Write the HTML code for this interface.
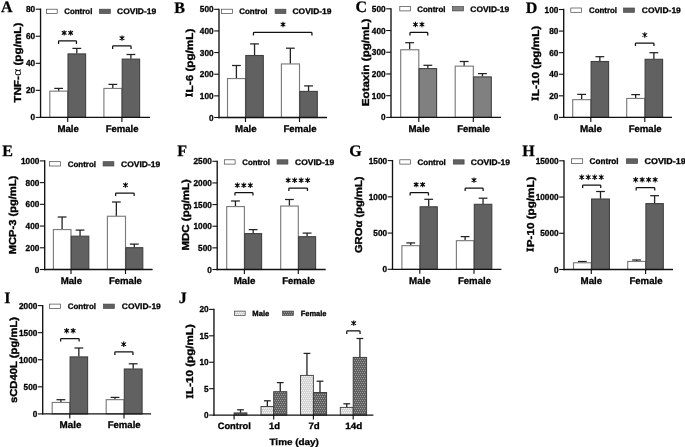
<!DOCTYPE html>
<html><head><meta charset="utf-8"><title>Figure</title>
<style>html,body{margin:0;padding:0;background:#fff}svg{display:block;will-change:transform;filter:grayscale(1)}text{text-rendering:geometricPrecision}</style>
</head><body>
<svg width="685" height="447" viewBox="0 0 685 447">
<defs>
<pattern id="pl" width="4" height="4" patternUnits="userSpaceOnUse">
<rect width="4" height="4" fill="#d4d4d4"/>
<path d="M0 0h1v1h-1zM2 0h1v1h-1zM1 2h1v1h-1zM3 2h1v1h-1z" fill="#f6f6f6"/>
</pattern>
<pattern id="pd" width="4" height="4" patternUnits="userSpaceOnUse">
<rect width="4" height="4" fill="#606060"/>
<path d="M0 0h1v1h-1zM2 0h1v1h-1zM1 2h1v1h-1zM3 2h1v1h-1z" fill="#9a9a9a"/>
</pattern>
</defs>
<rect width="685" height="447" fill="#fff"/>
<line x1="58.65" y1="88.40" x2="58.65" y2="90.90" stroke="#222" stroke-width="1.3"/>
<line x1="54.25" y1="88.40" x2="63.05" y2="88.40" stroke="#222" stroke-width="1.25"/>
<rect x="49.80" y="91.15" width="17.90" height="26.25" fill="#fff" stroke="#7c7c7c" stroke-width="1.15"/>
<line x1="76.80" y1="48.40" x2="76.80" y2="53.60" stroke="#222" stroke-width="1.3"/>
<line x1="72.40" y1="48.40" x2="81.20" y2="48.40" stroke="#222" stroke-width="1.25"/>
<rect x="68.00" y="53.90" width="17.60" height="63.50" fill="#616161" stroke="#404040" stroke-width="1.1"/>
<line x1="112.80" y1="84.40" x2="112.80" y2="88.20" stroke="#222" stroke-width="1.3"/>
<line x1="108.40" y1="84.40" x2="117.20" y2="84.40" stroke="#222" stroke-width="1.25"/>
<rect x="103.90" y="88.45" width="18.00" height="28.95" fill="#fff" stroke="#7c7c7c" stroke-width="1.15"/>
<line x1="130.90" y1="54.50" x2="130.90" y2="58.80" stroke="#222" stroke-width="1.3"/>
<line x1="126.50" y1="54.50" x2="135.30" y2="54.50" stroke="#222" stroke-width="1.25"/>
<rect x="122.20" y="59.10" width="17.40" height="58.30" fill="#616161" stroke="#404040" stroke-width="1.1"/>
<line x1="40.55" y1="8.55" x2="40.55" y2="118.05" stroke="#111" stroke-width="1.35"/>
<line x1="39.90" y1="117.40" x2="150.00" y2="117.40" stroke="#111" stroke-width="1.35"/>
<line x1="35.75" y1="117.40" x2="40.55" y2="117.40" stroke="#111" stroke-width="1.1"/>
<text x="35.15" y="120.45" font-size="8.7" text-anchor="end" font-family="Liberation Sans, sans-serif" font-weight="bold" textLength="4.58" lengthAdjust="spacingAndGlyphs" fill="#000" stroke="#000" stroke-width="0.3" >0</text>
<line x1="35.75" y1="90.35" x2="40.55" y2="90.35" stroke="#111" stroke-width="1.1"/>
<text x="35.15" y="93.40" font-size="8.7" text-anchor="end" font-family="Liberation Sans, sans-serif" font-weight="bold" textLength="9.16" lengthAdjust="spacingAndGlyphs" fill="#000" stroke="#000" stroke-width="0.3" >20</text>
<line x1="35.75" y1="63.30" x2="40.55" y2="63.30" stroke="#111" stroke-width="1.1"/>
<text x="35.15" y="66.35" font-size="8.7" text-anchor="end" font-family="Liberation Sans, sans-serif" font-weight="bold" textLength="9.16" lengthAdjust="spacingAndGlyphs" fill="#000" stroke="#000" stroke-width="0.3" >40</text>
<line x1="35.75" y1="36.25" x2="40.55" y2="36.25" stroke="#111" stroke-width="1.1"/>
<text x="35.15" y="39.30" font-size="8.7" text-anchor="end" font-family="Liberation Sans, sans-serif" font-weight="bold" textLength="9.16" lengthAdjust="spacingAndGlyphs" fill="#000" stroke="#000" stroke-width="0.3" >60</text>
<line x1="35.75" y1="9.20" x2="40.55" y2="9.20" stroke="#111" stroke-width="1.1"/>
<text x="35.15" y="12.25" font-size="8.7" text-anchor="end" font-family="Liberation Sans, sans-serif" font-weight="bold" textLength="9.16" lengthAdjust="spacingAndGlyphs" fill="#000" stroke="#000" stroke-width="0.3" >80</text>
<line x1="67.70" y1="117.40" x2="67.70" y2="121.90" stroke="#111" stroke-width="1.15"/>
<line x1="121.90" y1="117.40" x2="121.90" y2="121.90" stroke="#111" stroke-width="1.15"/>
<text x="57.40" y="131.90" font-size="9.7" text-anchor="start" font-family="Liberation Sans, sans-serif" font-weight="bold" textLength="21.50" lengthAdjust="spacingAndGlyphs" fill="#000" stroke="#000" stroke-width="0.3" >Male</text>
<text x="105.70" y="131.90" font-size="9.7" text-anchor="start" font-family="Liberation Sans, sans-serif" font-weight="bold" textLength="32.90" lengthAdjust="spacingAndGlyphs" fill="#000" stroke="#000" stroke-width="0.3" >Female</text>
<rect x="46.40" y="9.20" width="10.8" height="4.3" fill="#fff" stroke="#444" stroke-width="0.7"/>
<rect x="99.50" y="9.20" width="10.8" height="4.3" fill="#616161" stroke="#444" stroke-width="0.7"/>
<text x="64.20" y="14.15" font-size="8.0" text-anchor="start" font-family="Liberation Sans, sans-serif" font-weight="bold" textLength="28.20" lengthAdjust="spacingAndGlyphs" fill="#000" stroke="#000" stroke-width="0.3" >Control</text>
<text x="117.00" y="14.15" font-size="8.0" text-anchor="start" font-family="Liberation Sans, sans-serif" font-weight="bold" textLength="39.20" lengthAdjust="spacingAndGlyphs" fill="#000" stroke="#000" stroke-width="0.3" >COVID-19</text>
<path d="M58.55 43.90V41.60Q58.55 40.80 59.35 40.80H75.65Q76.45 40.80 76.45 41.60V43.90" fill="none" stroke="#111" stroke-width="1.25"/>
<path d="M64.15 30.20V35.60M61.80 31.30L66.50 34.50M61.80 34.50L66.50 31.30M70.65 30.20V35.60M68.30 31.30L73.00 34.50M68.30 34.50L73.00 31.30" fill="none" stroke="#0a0a0a" stroke-width="1.1"/><circle cx="64.15" cy="32.90" r="1.25" fill="#0a0a0a"/><circle cx="70.65" cy="32.90" r="1.25" fill="#0a0a0a"/>
<path d="M112.65 49.00V46.70Q112.65 45.90 113.45 45.90H130.25Q131.05 45.90 131.05 46.70V49.00" fill="none" stroke="#111" stroke-width="1.25"/>
<path d="M122.00 35.40V40.80M119.65 36.50L124.35 39.70M119.65 39.70L124.35 36.50" fill="none" stroke="#0a0a0a" stroke-width="1.1"/><circle cx="122.00" cy="38.10" r="1.25" fill="#0a0a0a"/>
<text transform="translate(20.65,102.70) rotate(-90)" x="0" font-size="10.1" font-family="Liberation Sans, sans-serif" font-weight="bold" textLength="80.00" lengthAdjust="spacingAndGlyphs" fill="#000" stroke="#000" stroke-width="0.35">TNF-<tspan font-weight="normal" stroke-width="0" font-size="11">α</tspan> (pg/mL)</text>
<text x="1.00" y="12.30" font-size="16" font-family="Liberation Serif, serif" font-weight="bold" fill="#000" stroke="#000" stroke-width="0.25">A</text>
<line x1="236.40" y1="65.50" x2="236.40" y2="78.30" stroke="#222" stroke-width="1.3"/>
<line x1="232.00" y1="65.50" x2="240.80" y2="65.50" stroke="#222" stroke-width="1.25"/>
<rect x="227.50" y="78.55" width="18.00" height="38.95" fill="#fff" stroke="#7c7c7c" stroke-width="1.15"/>
<line x1="254.55" y1="43.90" x2="254.55" y2="55.20" stroke="#222" stroke-width="1.3"/>
<line x1="250.15" y1="43.90" x2="258.95" y2="43.90" stroke="#222" stroke-width="1.25"/>
<rect x="245.80" y="55.50" width="17.50" height="62.00" fill="#616161" stroke="#404040" stroke-width="1.1"/>
<line x1="290.35" y1="48.20" x2="290.35" y2="63.70" stroke="#222" stroke-width="1.3"/>
<line x1="285.95" y1="48.20" x2="294.75" y2="48.20" stroke="#222" stroke-width="1.25"/>
<rect x="281.40" y="63.95" width="18.10" height="53.55" fill="#fff" stroke="#7c7c7c" stroke-width="1.15"/>
<line x1="308.55" y1="85.90" x2="308.55" y2="91.10" stroke="#222" stroke-width="1.3"/>
<line x1="304.15" y1="85.90" x2="312.95" y2="85.90" stroke="#222" stroke-width="1.25"/>
<rect x="299.80" y="91.40" width="17.50" height="26.10" fill="#616161" stroke="#404040" stroke-width="1.1"/>
<line x1="219.00" y1="8.65" x2="219.00" y2="118.15" stroke="#111" stroke-width="1.35"/>
<line x1="218.35" y1="117.50" x2="327.00" y2="117.50" stroke="#111" stroke-width="1.35"/>
<line x1="214.20" y1="117.50" x2="219.00" y2="117.50" stroke="#111" stroke-width="1.1"/>
<text x="213.60" y="120.55" font-size="8.7" text-anchor="end" font-family="Liberation Sans, sans-serif" font-weight="bold" textLength="4.58" lengthAdjust="spacingAndGlyphs" fill="#000" stroke="#000" stroke-width="0.3" >0</text>
<line x1="214.20" y1="95.86" x2="219.00" y2="95.86" stroke="#111" stroke-width="1.1"/>
<text x="213.60" y="98.91" font-size="8.7" text-anchor="end" font-family="Liberation Sans, sans-serif" font-weight="bold" textLength="13.74" lengthAdjust="spacingAndGlyphs" fill="#000" stroke="#000" stroke-width="0.3" >100</text>
<line x1="214.20" y1="74.22" x2="219.00" y2="74.22" stroke="#111" stroke-width="1.1"/>
<text x="213.60" y="77.27" font-size="8.7" text-anchor="end" font-family="Liberation Sans, sans-serif" font-weight="bold" textLength="13.74" lengthAdjust="spacingAndGlyphs" fill="#000" stroke="#000" stroke-width="0.3" >200</text>
<line x1="214.20" y1="52.58" x2="219.00" y2="52.58" stroke="#111" stroke-width="1.1"/>
<text x="213.60" y="55.63" font-size="8.7" text-anchor="end" font-family="Liberation Sans, sans-serif" font-weight="bold" textLength="13.74" lengthAdjust="spacingAndGlyphs" fill="#000" stroke="#000" stroke-width="0.3" >300</text>
<line x1="214.20" y1="30.94" x2="219.00" y2="30.94" stroke="#111" stroke-width="1.1"/>
<text x="213.60" y="33.99" font-size="8.7" text-anchor="end" font-family="Liberation Sans, sans-serif" font-weight="bold" textLength="13.74" lengthAdjust="spacingAndGlyphs" fill="#000" stroke="#000" stroke-width="0.3" >400</text>
<line x1="214.20" y1="9.30" x2="219.00" y2="9.30" stroke="#111" stroke-width="1.1"/>
<text x="213.60" y="12.35" font-size="8.7" text-anchor="end" font-family="Liberation Sans, sans-serif" font-weight="bold" textLength="13.74" lengthAdjust="spacingAndGlyphs" fill="#000" stroke="#000" stroke-width="0.3" >500</text>
<line x1="245.50" y1="117.50" x2="245.50" y2="122.00" stroke="#111" stroke-width="1.15"/>
<line x1="299.50" y1="117.50" x2="299.50" y2="122.00" stroke="#111" stroke-width="1.15"/>
<text x="235.00" y="131.90" font-size="9.7" text-anchor="start" font-family="Liberation Sans, sans-serif" font-weight="bold" textLength="21.70" lengthAdjust="spacingAndGlyphs" fill="#000" stroke="#000" stroke-width="0.3" >Male</text>
<text x="283.40" y="131.90" font-size="9.7" text-anchor="start" font-family="Liberation Sans, sans-serif" font-weight="bold" textLength="33.10" lengthAdjust="spacingAndGlyphs" fill="#000" stroke="#000" stroke-width="0.3" >Female</text>
<rect x="221.60" y="9.20" width="10.8" height="4.3" fill="#fff" stroke="#444" stroke-width="0.7"/>
<rect x="275.10" y="9.20" width="10.8" height="4.3" fill="#616161" stroke="#444" stroke-width="0.7"/>
<text x="239.30" y="14.15" font-size="8.0" text-anchor="start" font-family="Liberation Sans, sans-serif" font-weight="bold" textLength="28.20" lengthAdjust="spacingAndGlyphs" fill="#000" stroke="#000" stroke-width="0.3" >Control</text>
<text x="292.50" y="14.15" font-size="8.0" text-anchor="start" font-family="Liberation Sans, sans-serif" font-weight="bold" textLength="39.00" lengthAdjust="spacingAndGlyphs" fill="#000" stroke="#000" stroke-width="0.3" >COVID-19</text>
<path d="M253.45 35.50V33.20Q253.45 32.40 254.25 32.40H311.15Q311.95 32.40 311.95 33.20V35.50" fill="none" stroke="#111" stroke-width="1.25"/>
<path d="M283.00 21.80V27.20M280.65 22.90L285.35 26.10M280.65 26.10L285.35 22.90" fill="none" stroke="#0a0a0a" stroke-width="1.1"/><circle cx="283.00" cy="24.50" r="1.25" fill="#0a0a0a"/>
<path transform="translate(192.65,97.30) rotate(-90)" d="M0.3 0h4v-1.2h-4zM0.3 -5.95h4v-1.2h-4zM1.35 -0.5h1.9v-6h-1.9z" fill="#000"/>
<text transform="translate(192.65,97.30) rotate(-90)" x="4.9" font-size="10.1" font-family="Liberation Sans, sans-serif" font-weight="bold" textLength="63.70" lengthAdjust="spacingAndGlyphs" fill="#000" stroke="#000" stroke-width="0.35">L-6 (pg/mL)</text>
<text x="174.30" y="12.50" font-size="16" font-family="Liberation Serif, serif" font-weight="bold" fill="#000" stroke="#000" stroke-width="0.25">B</text>
<line x1="409.65" y1="42.70" x2="409.65" y2="49.50" stroke="#222" stroke-width="1.3"/>
<line x1="405.25" y1="42.70" x2="414.05" y2="42.70" stroke="#222" stroke-width="1.25"/>
<rect x="400.70" y="49.75" width="18.10" height="67.65" fill="#fff" stroke="#7c7c7c" stroke-width="1.15"/>
<line x1="427.85" y1="65.30" x2="427.85" y2="68.30" stroke="#222" stroke-width="1.3"/>
<line x1="423.45" y1="65.30" x2="432.25" y2="65.30" stroke="#222" stroke-width="1.25"/>
<rect x="419.10" y="68.60" width="17.50" height="48.80" fill="#808080" stroke="#404040" stroke-width="1.1"/>
<line x1="464.15" y1="61.50" x2="464.15" y2="65.90" stroke="#222" stroke-width="1.3"/>
<line x1="459.75" y1="61.50" x2="468.55" y2="61.50" stroke="#222" stroke-width="1.25"/>
<rect x="455.20" y="66.15" width="18.10" height="51.25" fill="#fff" stroke="#7c7c7c" stroke-width="1.15"/>
<line x1="482.45" y1="73.60" x2="482.45" y2="76.60" stroke="#222" stroke-width="1.3"/>
<line x1="478.05" y1="73.60" x2="486.85" y2="73.60" stroke="#222" stroke-width="1.25"/>
<rect x="473.60" y="76.90" width="17.70" height="40.50" fill="#808080" stroke="#404040" stroke-width="1.1"/>
<line x1="391.00" y1="8.15" x2="391.00" y2="118.05" stroke="#111" stroke-width="1.35"/>
<line x1="390.35" y1="117.40" x2="501.00" y2="117.40" stroke="#111" stroke-width="1.35"/>
<line x1="386.20" y1="117.40" x2="391.00" y2="117.40" stroke="#111" stroke-width="1.1"/>
<text x="385.60" y="120.45" font-size="8.7" text-anchor="end" font-family="Liberation Sans, sans-serif" font-weight="bold" textLength="4.58" lengthAdjust="spacingAndGlyphs" fill="#000" stroke="#000" stroke-width="0.3" >0</text>
<line x1="386.20" y1="95.68" x2="391.00" y2="95.68" stroke="#111" stroke-width="1.1"/>
<text x="385.60" y="98.73" font-size="8.7" text-anchor="end" font-family="Liberation Sans, sans-serif" font-weight="bold" textLength="13.74" lengthAdjust="spacingAndGlyphs" fill="#000" stroke="#000" stroke-width="0.3" >100</text>
<line x1="386.20" y1="73.96" x2="391.00" y2="73.96" stroke="#111" stroke-width="1.1"/>
<text x="385.60" y="77.01" font-size="8.7" text-anchor="end" font-family="Liberation Sans, sans-serif" font-weight="bold" textLength="13.74" lengthAdjust="spacingAndGlyphs" fill="#000" stroke="#000" stroke-width="0.3" >200</text>
<line x1="386.20" y1="52.24" x2="391.00" y2="52.24" stroke="#111" stroke-width="1.1"/>
<text x="385.60" y="55.29" font-size="8.7" text-anchor="end" font-family="Liberation Sans, sans-serif" font-weight="bold" textLength="13.74" lengthAdjust="spacingAndGlyphs" fill="#000" stroke="#000" stroke-width="0.3" >300</text>
<line x1="386.20" y1="30.52" x2="391.00" y2="30.52" stroke="#111" stroke-width="1.1"/>
<text x="385.60" y="33.57" font-size="8.7" text-anchor="end" font-family="Liberation Sans, sans-serif" font-weight="bold" textLength="13.74" lengthAdjust="spacingAndGlyphs" fill="#000" stroke="#000" stroke-width="0.3" >400</text>
<line x1="386.20" y1="8.80" x2="391.00" y2="8.80" stroke="#111" stroke-width="1.1"/>
<text x="385.60" y="11.85" font-size="8.7" text-anchor="end" font-family="Liberation Sans, sans-serif" font-weight="bold" textLength="13.74" lengthAdjust="spacingAndGlyphs" fill="#000" stroke="#000" stroke-width="0.3" >500</text>
<line x1="418.80" y1="117.40" x2="418.80" y2="121.90" stroke="#111" stroke-width="1.15"/>
<line x1="473.30" y1="117.40" x2="473.30" y2="121.90" stroke="#111" stroke-width="1.15"/>
<text x="408.50" y="131.90" font-size="9.7" text-anchor="start" font-family="Liberation Sans, sans-serif" font-weight="bold" textLength="21.50" lengthAdjust="spacingAndGlyphs" fill="#000" stroke="#000" stroke-width="0.3" >Male</text>
<text x="457.20" y="131.90" font-size="9.7" text-anchor="start" font-family="Liberation Sans, sans-serif" font-weight="bold" textLength="33.00" lengthAdjust="spacingAndGlyphs" fill="#000" stroke="#000" stroke-width="0.3" >Female</text>
<rect x="399.80" y="6.60" width="10.8" height="4.3" fill="#fff" stroke="#444" stroke-width="0.7"/>
<rect x="452.60" y="6.60" width="10.8" height="4.3" fill="#808080" stroke="#444" stroke-width="0.7"/>
<text x="417.30" y="11.55" font-size="8.0" text-anchor="start" font-family="Liberation Sans, sans-serif" font-weight="bold" textLength="28.20" lengthAdjust="spacingAndGlyphs" fill="#000" stroke="#000" stroke-width="0.3" >Control</text>
<text x="470.30" y="11.55" font-size="8.0" text-anchor="start" font-family="Liberation Sans, sans-serif" font-weight="bold" textLength="38.90" lengthAdjust="spacingAndGlyphs" fill="#000" stroke="#000" stroke-width="0.3" >COVID-19</text>
<path d="M409.95 35.50V33.20Q409.95 32.40 410.75 32.40H426.95Q427.75 32.40 427.75 33.20V35.50" fill="none" stroke="#111" stroke-width="1.25"/>
<path d="M415.45 21.80V27.20M413.10 22.90L417.80 26.10M413.10 26.10L417.80 22.90M421.95 21.80V27.20M419.60 22.90L424.30 26.10M419.60 26.10L424.30 22.90" fill="none" stroke="#0a0a0a" stroke-width="1.1"/><circle cx="415.45" cy="24.50" r="1.25" fill="#0a0a0a"/><circle cx="421.95" cy="24.50" r="1.25" fill="#0a0a0a"/>
<text transform="translate(369.05,106.30) rotate(-90)" x="0" font-size="10.1" font-family="Liberation Sans, sans-serif" font-weight="bold" textLength="87.60" lengthAdjust="spacingAndGlyphs" fill="#000" stroke="#000" stroke-width="0.35">Eotaxin (pg/mL)</text>
<text x="355.50" y="12.00" font-size="16" font-family="Liberation Serif, serif" font-weight="bold" fill="#000" stroke="#000" stroke-width="0.25">C</text>
<line x1="581.65" y1="94.40" x2="581.65" y2="99.40" stroke="#222" stroke-width="1.3"/>
<line x1="577.25" y1="94.40" x2="586.05" y2="94.40" stroke="#222" stroke-width="1.25"/>
<rect x="572.70" y="99.65" width="18.10" height="17.75" fill="#fff" stroke="#7c7c7c" stroke-width="1.15"/>
<line x1="599.85" y1="56.70" x2="599.85" y2="61.20" stroke="#222" stroke-width="1.3"/>
<line x1="595.45" y1="56.70" x2="604.25" y2="56.70" stroke="#222" stroke-width="1.25"/>
<rect x="591.10" y="61.50" width="17.50" height="55.90" fill="#616161" stroke="#404040" stroke-width="1.1"/>
<line x1="635.65" y1="94.60" x2="635.65" y2="98.20" stroke="#222" stroke-width="1.3"/>
<line x1="631.25" y1="94.60" x2="640.05" y2="94.60" stroke="#222" stroke-width="1.25"/>
<rect x="626.70" y="98.45" width="18.10" height="18.95" fill="#fff" stroke="#7c7c7c" stroke-width="1.15"/>
<line x1="653.85" y1="52.70" x2="653.85" y2="59.00" stroke="#222" stroke-width="1.3"/>
<line x1="649.45" y1="52.70" x2="658.25" y2="52.70" stroke="#222" stroke-width="1.25"/>
<rect x="645.10" y="59.30" width="17.50" height="58.10" fill="#616161" stroke="#404040" stroke-width="1.1"/>
<line x1="563.70" y1="8.85" x2="563.70" y2="118.05" stroke="#111" stroke-width="1.35"/>
<line x1="563.05" y1="117.40" x2="672.00" y2="117.40" stroke="#111" stroke-width="1.35"/>
<line x1="558.90" y1="117.40" x2="563.70" y2="117.40" stroke="#111" stroke-width="1.1"/>
<text x="558.30" y="120.45" font-size="8.7" text-anchor="end" font-family="Liberation Sans, sans-serif" font-weight="bold" textLength="4.58" lengthAdjust="spacingAndGlyphs" fill="#000" stroke="#000" stroke-width="0.3" >0</text>
<line x1="558.90" y1="95.82" x2="563.70" y2="95.82" stroke="#111" stroke-width="1.1"/>
<text x="558.30" y="98.87" font-size="8.7" text-anchor="end" font-family="Liberation Sans, sans-serif" font-weight="bold" textLength="9.16" lengthAdjust="spacingAndGlyphs" fill="#000" stroke="#000" stroke-width="0.3" >20</text>
<line x1="558.90" y1="74.24" x2="563.70" y2="74.24" stroke="#111" stroke-width="1.1"/>
<text x="558.30" y="77.29" font-size="8.7" text-anchor="end" font-family="Liberation Sans, sans-serif" font-weight="bold" textLength="9.16" lengthAdjust="spacingAndGlyphs" fill="#000" stroke="#000" stroke-width="0.3" >40</text>
<line x1="558.90" y1="52.66" x2="563.70" y2="52.66" stroke="#111" stroke-width="1.1"/>
<text x="558.30" y="55.71" font-size="8.7" text-anchor="end" font-family="Liberation Sans, sans-serif" font-weight="bold" textLength="9.16" lengthAdjust="spacingAndGlyphs" fill="#000" stroke="#000" stroke-width="0.3" >60</text>
<line x1="558.90" y1="31.08" x2="563.70" y2="31.08" stroke="#111" stroke-width="1.1"/>
<text x="558.30" y="34.13" font-size="8.7" text-anchor="end" font-family="Liberation Sans, sans-serif" font-weight="bold" textLength="9.16" lengthAdjust="spacingAndGlyphs" fill="#000" stroke="#000" stroke-width="0.3" >80</text>
<line x1="558.90" y1="9.50" x2="563.70" y2="9.50" stroke="#111" stroke-width="1.1"/>
<text x="558.30" y="12.55" font-size="8.7" text-anchor="end" font-family="Liberation Sans, sans-serif" font-weight="bold" textLength="13.74" lengthAdjust="spacingAndGlyphs" fill="#000" stroke="#000" stroke-width="0.3" >100</text>
<line x1="590.80" y1="117.40" x2="590.80" y2="121.90" stroke="#111" stroke-width="1.15"/>
<line x1="644.80" y1="117.40" x2="644.80" y2="121.90" stroke="#111" stroke-width="1.15"/>
<text x="580.00" y="131.90" font-size="9.7" text-anchor="start" font-family="Liberation Sans, sans-serif" font-weight="bold" textLength="22.00" lengthAdjust="spacingAndGlyphs" fill="#000" stroke="#000" stroke-width="0.3" >Male</text>
<text x="628.70" y="131.90" font-size="9.7" text-anchor="start" font-family="Liberation Sans, sans-serif" font-weight="bold" textLength="33.00" lengthAdjust="spacingAndGlyphs" fill="#000" stroke="#000" stroke-width="0.3" >Female</text>
<rect x="570.80" y="8.00" width="10.8" height="4.3" fill="#fff" stroke="#444" stroke-width="0.7"/>
<rect x="623.60" y="8.00" width="10.8" height="4.3" fill="#616161" stroke="#444" stroke-width="0.7"/>
<text x="589.00" y="12.95" font-size="8.0" text-anchor="start" font-family="Liberation Sans, sans-serif" font-weight="bold" textLength="28.00" lengthAdjust="spacingAndGlyphs" fill="#000" stroke="#000" stroke-width="0.3" >Control</text>
<text x="641.80" y="12.95" font-size="8.0" text-anchor="start" font-family="Liberation Sans, sans-serif" font-weight="bold" textLength="39.00" lengthAdjust="spacingAndGlyphs" fill="#000" stroke="#000" stroke-width="0.3" >COVID-19</text>
<path d="M635.45 46.10V43.80Q635.45 43.00 636.25 43.00H653.15Q653.95 43.00 653.95 43.80V46.10" fill="none" stroke="#111" stroke-width="1.25"/>
<path d="M644.80 32.30V37.70M642.45 33.40L647.15 36.60M642.45 36.60L647.15 33.40" fill="none" stroke="#0a0a0a" stroke-width="1.1"/><circle cx="644.80" cy="35.00" r="1.25" fill="#0a0a0a"/>
<path transform="translate(538.65,101.10) rotate(-90)" d="M0.3 0h4v-1.2h-4zM0.3 -5.95h4v-1.2h-4zM1.35 -0.5h1.9v-6h-1.9z" fill="#000"/>
<text transform="translate(538.65,101.10) rotate(-90)" x="4.9" font-size="10.1" font-family="Liberation Sans, sans-serif" font-weight="bold" textLength="70.50" lengthAdjust="spacingAndGlyphs" fill="#000" stroke="#000" stroke-width="0.35">L-10 (pg/mL)</text>
<text x="525.80" y="12.50" font-size="16" font-family="Liberation Serif, serif" font-weight="bold" fill="#000" stroke="#000" stroke-width="0.25">D</text>
<line x1="62.10" y1="217.00" x2="62.10" y2="229.30" stroke="#222" stroke-width="1.3"/>
<line x1="57.70" y1="217.00" x2="66.50" y2="217.00" stroke="#222" stroke-width="1.25"/>
<rect x="53.40" y="229.55" width="17.60" height="39.95" fill="#fff" stroke="#7c7c7c" stroke-width="1.15"/>
<line x1="80.05" y1="230.10" x2="80.05" y2="235.90" stroke="#222" stroke-width="1.3"/>
<line x1="75.65" y1="230.10" x2="84.45" y2="230.10" stroke="#222" stroke-width="1.25"/>
<rect x="71.30" y="236.20" width="17.50" height="33.30" fill="#616161" stroke="#404040" stroke-width="1.1"/>
<line x1="116.35" y1="202.00" x2="116.35" y2="216.00" stroke="#222" stroke-width="1.3"/>
<line x1="111.95" y1="202.00" x2="120.75" y2="202.00" stroke="#222" stroke-width="1.25"/>
<rect x="107.40" y="216.25" width="18.10" height="53.25" fill="#fff" stroke="#7c7c7c" stroke-width="1.15"/>
<line x1="134.30" y1="244.10" x2="134.30" y2="247.40" stroke="#222" stroke-width="1.3"/>
<line x1="129.90" y1="244.10" x2="138.70" y2="244.10" stroke="#222" stroke-width="1.25"/>
<rect x="125.80" y="247.70" width="17.00" height="21.80" fill="#616161" stroke="#404040" stroke-width="1.1"/>
<line x1="44.70" y1="160.25" x2="44.70" y2="270.15" stroke="#111" stroke-width="1.35"/>
<line x1="44.05" y1="269.50" x2="152.60" y2="269.50" stroke="#111" stroke-width="1.35"/>
<line x1="39.90" y1="269.50" x2="44.70" y2="269.50" stroke="#111" stroke-width="1.1"/>
<text x="39.30" y="272.55" font-size="8.7" text-anchor="end" font-family="Liberation Sans, sans-serif" font-weight="bold" textLength="4.58" lengthAdjust="spacingAndGlyphs" fill="#000" stroke="#000" stroke-width="0.3" >0</text>
<line x1="39.90" y1="247.78" x2="44.70" y2="247.78" stroke="#111" stroke-width="1.1"/>
<text x="39.30" y="250.83" font-size="8.7" text-anchor="end" font-family="Liberation Sans, sans-serif" font-weight="bold" textLength="13.74" lengthAdjust="spacingAndGlyphs" fill="#000" stroke="#000" stroke-width="0.3" >200</text>
<line x1="39.90" y1="226.06" x2="44.70" y2="226.06" stroke="#111" stroke-width="1.1"/>
<text x="39.30" y="229.11" font-size="8.7" text-anchor="end" font-family="Liberation Sans, sans-serif" font-weight="bold" textLength="13.74" lengthAdjust="spacingAndGlyphs" fill="#000" stroke="#000" stroke-width="0.3" >400</text>
<line x1="39.90" y1="204.34" x2="44.70" y2="204.34" stroke="#111" stroke-width="1.1"/>
<text x="39.30" y="207.39" font-size="8.7" text-anchor="end" font-family="Liberation Sans, sans-serif" font-weight="bold" textLength="13.74" lengthAdjust="spacingAndGlyphs" fill="#000" stroke="#000" stroke-width="0.3" >600</text>
<line x1="39.90" y1="182.62" x2="44.70" y2="182.62" stroke="#111" stroke-width="1.1"/>
<text x="39.30" y="185.67" font-size="8.7" text-anchor="end" font-family="Liberation Sans, sans-serif" font-weight="bold" textLength="13.74" lengthAdjust="spacingAndGlyphs" fill="#000" stroke="#000" stroke-width="0.3" >800</text>
<line x1="39.90" y1="160.90" x2="44.70" y2="160.90" stroke="#111" stroke-width="1.1"/>
<text x="39.30" y="163.95" font-size="8.7" text-anchor="end" font-family="Liberation Sans, sans-serif" font-weight="bold" textLength="18.32" lengthAdjust="spacingAndGlyphs" fill="#000" stroke="#000" stroke-width="0.3" >1000</text>
<line x1="71.00" y1="269.50" x2="71.00" y2="274.00" stroke="#111" stroke-width="1.15"/>
<line x1="125.50" y1="269.50" x2="125.50" y2="274.00" stroke="#111" stroke-width="1.15"/>
<text x="60.70" y="283.60" font-size="9.7" text-anchor="start" font-family="Liberation Sans, sans-serif" font-weight="bold" textLength="21.50" lengthAdjust="spacingAndGlyphs" fill="#000" stroke="#000" stroke-width="0.3" >Male</text>
<text x="108.90" y="283.60" font-size="9.7" text-anchor="start" font-family="Liberation Sans, sans-serif" font-weight="bold" textLength="33.00" lengthAdjust="spacingAndGlyphs" fill="#000" stroke="#000" stroke-width="0.3" >Female</text>
<rect x="49.60" y="161.70" width="10.8" height="4.3" fill="#fff" stroke="#444" stroke-width="0.7"/>
<rect x="103.10" y="161.70" width="10.8" height="4.3" fill="#616161" stroke="#444" stroke-width="0.7"/>
<text x="67.80" y="166.65" font-size="8.0" text-anchor="start" font-family="Liberation Sans, sans-serif" font-weight="bold" textLength="28.20" lengthAdjust="spacingAndGlyphs" fill="#000" stroke="#000" stroke-width="0.3" >Control</text>
<text x="121.00" y="166.65" font-size="8.0" text-anchor="start" font-family="Liberation Sans, sans-serif" font-weight="bold" textLength="39.20" lengthAdjust="spacingAndGlyphs" fill="#000" stroke="#000" stroke-width="0.3" >COVID-19</text>
<path d="M115.65 196.10V193.80Q115.65 193.00 116.45 193.00H133.35Q134.15 193.00 134.15 193.80V196.10" fill="none" stroke="#111" stroke-width="1.25"/>
<path d="M125.50 182.40V187.80M123.15 183.50L127.85 186.70M123.15 186.70L127.85 183.50" fill="none" stroke="#0a0a0a" stroke-width="1.1"/><circle cx="125.50" cy="185.10" r="1.25" fill="#0a0a0a"/>
<text transform="translate(16.45,254.30) rotate(-90)" x="0" font-size="10.1" font-family="Liberation Sans, sans-serif" font-weight="bold" textLength="78.60" lengthAdjust="spacingAndGlyphs" fill="#000" stroke="#000" stroke-width="0.35">MCP-3 (pg/mL)</text>
<text x="2.30" y="155.60" font-size="16" font-family="Liberation Serif, serif" font-weight="bold" fill="#000" stroke="#000" stroke-width="0.25">E</text>
<line x1="235.45" y1="201.00" x2="235.45" y2="206.30" stroke="#222" stroke-width="1.3"/>
<line x1="231.05" y1="201.00" x2="239.85" y2="201.00" stroke="#222" stroke-width="1.25"/>
<rect x="226.70" y="206.55" width="17.70" height="62.95" fill="#fff" stroke="#7c7c7c" stroke-width="1.15"/>
<line x1="253.15" y1="229.60" x2="253.15" y2="233.30" stroke="#222" stroke-width="1.3"/>
<line x1="248.75" y1="229.60" x2="257.55" y2="229.60" stroke="#222" stroke-width="1.25"/>
<rect x="244.70" y="233.60" width="16.90" height="35.90" fill="#616161" stroke="#404040" stroke-width="1.1"/>
<line x1="289.40" y1="199.50" x2="289.40" y2="205.80" stroke="#222" stroke-width="1.3"/>
<line x1="285.00" y1="199.50" x2="293.80" y2="199.50" stroke="#222" stroke-width="1.25"/>
<rect x="280.70" y="206.05" width="17.60" height="63.45" fill="#fff" stroke="#7c7c7c" stroke-width="1.15"/>
<line x1="307.10" y1="233.10" x2="307.10" y2="236.40" stroke="#222" stroke-width="1.3"/>
<line x1="302.70" y1="233.10" x2="311.50" y2="233.10" stroke="#222" stroke-width="1.25"/>
<rect x="298.60" y="236.70" width="17.00" height="32.80" fill="#616161" stroke="#404040" stroke-width="1.1"/>
<line x1="217.20" y1="160.65" x2="217.20" y2="270.15" stroke="#111" stroke-width="1.35"/>
<line x1="216.55" y1="269.50" x2="325.70" y2="269.50" stroke="#111" stroke-width="1.35"/>
<line x1="212.40" y1="269.50" x2="217.20" y2="269.50" stroke="#111" stroke-width="1.1"/>
<text x="211.80" y="272.55" font-size="8.7" text-anchor="end" font-family="Liberation Sans, sans-serif" font-weight="bold" textLength="4.58" lengthAdjust="spacingAndGlyphs" fill="#000" stroke="#000" stroke-width="0.3" >0</text>
<line x1="212.40" y1="247.86" x2="217.20" y2="247.86" stroke="#111" stroke-width="1.1"/>
<text x="211.80" y="250.91" font-size="8.7" text-anchor="end" font-family="Liberation Sans, sans-serif" font-weight="bold" textLength="13.74" lengthAdjust="spacingAndGlyphs" fill="#000" stroke="#000" stroke-width="0.3" >500</text>
<line x1="212.40" y1="226.22" x2="217.20" y2="226.22" stroke="#111" stroke-width="1.1"/>
<text x="211.80" y="229.27" font-size="8.7" text-anchor="end" font-family="Liberation Sans, sans-serif" font-weight="bold" textLength="18.32" lengthAdjust="spacingAndGlyphs" fill="#000" stroke="#000" stroke-width="0.3" >1000</text>
<line x1="212.40" y1="204.58" x2="217.20" y2="204.58" stroke="#111" stroke-width="1.1"/>
<text x="211.80" y="207.63" font-size="8.7" text-anchor="end" font-family="Liberation Sans, sans-serif" font-weight="bold" textLength="18.32" lengthAdjust="spacingAndGlyphs" fill="#000" stroke="#000" stroke-width="0.3" >1500</text>
<line x1="212.40" y1="182.94" x2="217.20" y2="182.94" stroke="#111" stroke-width="1.1"/>
<text x="211.80" y="185.99" font-size="8.7" text-anchor="end" font-family="Liberation Sans, sans-serif" font-weight="bold" textLength="18.32" lengthAdjust="spacingAndGlyphs" fill="#000" stroke="#000" stroke-width="0.3" >2000</text>
<line x1="212.40" y1="161.30" x2="217.20" y2="161.30" stroke="#111" stroke-width="1.1"/>
<text x="211.80" y="164.35" font-size="8.7" text-anchor="end" font-family="Liberation Sans, sans-serif" font-weight="bold" textLength="18.32" lengthAdjust="spacingAndGlyphs" fill="#000" stroke="#000" stroke-width="0.3" >2500</text>
<line x1="244.40" y1="269.50" x2="244.40" y2="274.00" stroke="#111" stroke-width="1.15"/>
<line x1="298.30" y1="269.50" x2="298.30" y2="274.00" stroke="#111" stroke-width="1.15"/>
<text x="233.70" y="283.60" font-size="9.7" text-anchor="start" font-family="Liberation Sans, sans-serif" font-weight="bold" textLength="21.80" lengthAdjust="spacingAndGlyphs" fill="#000" stroke="#000" stroke-width="0.3" >Male</text>
<text x="282.20" y="283.60" font-size="9.7" text-anchor="start" font-family="Liberation Sans, sans-serif" font-weight="bold" textLength="33.00" lengthAdjust="spacingAndGlyphs" fill="#000" stroke="#000" stroke-width="0.3" >Female</text>
<rect x="224.30" y="159.80" width="10.8" height="4.3" fill="#fff" stroke="#444" stroke-width="0.7"/>
<rect x="277.10" y="159.80" width="10.8" height="4.3" fill="#616161" stroke="#444" stroke-width="0.7"/>
<text x="242.30" y="164.75" font-size="8.0" text-anchor="start" font-family="Liberation Sans, sans-serif" font-weight="bold" textLength="27.70" lengthAdjust="spacingAndGlyphs" fill="#000" stroke="#000" stroke-width="0.3" >Control</text>
<text x="295.00" y="164.75" font-size="8.0" text-anchor="start" font-family="Liberation Sans, sans-serif" font-weight="bold" textLength="39.20" lengthAdjust="spacingAndGlyphs" fill="#000" stroke="#000" stroke-width="0.3" >COVID-19</text>
<path d="M234.95 195.60V193.30Q234.95 192.50 235.75 192.50H252.15Q252.95 192.50 252.95 193.30V195.60" fill="none" stroke="#111" stroke-width="1.25"/>
<path d="M237.30 182.60V188.00M234.95 183.70L239.65 186.90M234.95 186.90L239.65 183.70M243.80 182.60V188.00M241.45 183.70L246.15 186.90M241.45 186.90L246.15 183.70M250.30 182.60V188.00M247.95 183.70L252.65 186.90M247.95 186.90L252.65 183.70" fill="none" stroke="#0a0a0a" stroke-width="1.1"/><circle cx="237.30" cy="185.30" r="1.25" fill="#0a0a0a"/><circle cx="243.80" cy="185.30" r="1.25" fill="#0a0a0a"/><circle cx="250.30" cy="185.30" r="1.25" fill="#0a0a0a"/>
<path d="M288.85 191.10V188.80Q288.85 188.00 289.65 188.00H306.65Q307.45 188.00 307.45 188.80V191.10" fill="none" stroke="#111" stroke-width="1.25"/>
<path d="M288.15 177.60V183.00M285.80 178.70L290.50 181.90M285.80 181.90L290.50 178.70M294.65 177.60V183.00M292.30 178.70L297.00 181.90M292.30 181.90L297.00 178.70M301.15 177.60V183.00M298.80 178.70L303.50 181.90M298.80 181.90L303.50 178.70M307.65 177.60V183.00M305.30 178.70L310.00 181.90M305.30 181.90L310.00 178.70" fill="none" stroke="#0a0a0a" stroke-width="1.1"/><circle cx="288.15" cy="180.30" r="1.25" fill="#0a0a0a"/><circle cx="294.65" cy="180.30" r="1.25" fill="#0a0a0a"/><circle cx="301.15" cy="180.30" r="1.25" fill="#0a0a0a"/><circle cx="307.65" cy="180.30" r="1.25" fill="#0a0a0a"/>
<text transform="translate(189.45,250.50) rotate(-90)" x="0" font-size="10.1" font-family="Liberation Sans, sans-serif" font-weight="bold" textLength="71.40" lengthAdjust="spacingAndGlyphs" fill="#000" stroke="#000" stroke-width="0.35">MDC (pg/mL)</text>
<text x="177.30" y="155.60" font-size="16" font-family="Liberation Serif, serif" font-weight="bold" fill="#000" stroke="#000" stroke-width="0.25">F</text>
<line x1="410.75" y1="242.90" x2="410.75" y2="245.40" stroke="#222" stroke-width="1.3"/>
<line x1="406.35" y1="242.90" x2="415.15" y2="242.90" stroke="#222" stroke-width="1.25"/>
<rect x="401.90" y="245.65" width="17.90" height="23.65" fill="#fff" stroke="#7c7c7c" stroke-width="1.15"/>
<line x1="428.70" y1="199.30" x2="428.70" y2="206.50" stroke="#222" stroke-width="1.3"/>
<line x1="424.30" y1="199.30" x2="433.10" y2="199.30" stroke="#222" stroke-width="1.25"/>
<rect x="420.10" y="206.80" width="17.20" height="62.50" fill="#616161" stroke="#404040" stroke-width="1.1"/>
<line x1="465.10" y1="236.60" x2="465.10" y2="240.40" stroke="#222" stroke-width="1.3"/>
<line x1="460.70" y1="236.60" x2="469.50" y2="236.60" stroke="#222" stroke-width="1.25"/>
<rect x="456.40" y="240.65" width="17.60" height="28.65" fill="#fff" stroke="#7c7c7c" stroke-width="1.15"/>
<line x1="483.05" y1="198.20" x2="483.05" y2="204.00" stroke="#222" stroke-width="1.3"/>
<line x1="478.65" y1="198.20" x2="487.45" y2="198.20" stroke="#222" stroke-width="1.25"/>
<rect x="474.30" y="204.30" width="17.50" height="65.00" fill="#616161" stroke="#404040" stroke-width="1.1"/>
<line x1="392.50" y1="159.95" x2="392.50" y2="269.95" stroke="#111" stroke-width="1.35"/>
<line x1="391.85" y1="269.30" x2="501.40" y2="269.30" stroke="#111" stroke-width="1.35"/>
<line x1="387.70" y1="269.30" x2="392.50" y2="269.30" stroke="#111" stroke-width="1.1"/>
<text x="387.10" y="272.35" font-size="8.7" text-anchor="end" font-family="Liberation Sans, sans-serif" font-weight="bold" textLength="4.58" lengthAdjust="spacingAndGlyphs" fill="#000" stroke="#000" stroke-width="0.3" >0</text>
<line x1="387.70" y1="233.07" x2="392.50" y2="233.07" stroke="#111" stroke-width="1.1"/>
<text x="387.10" y="236.12" font-size="8.7" text-anchor="end" font-family="Liberation Sans, sans-serif" font-weight="bold" textLength="13.74" lengthAdjust="spacingAndGlyphs" fill="#000" stroke="#000" stroke-width="0.3" >500</text>
<line x1="387.70" y1="196.83" x2="392.50" y2="196.83" stroke="#111" stroke-width="1.1"/>
<text x="387.10" y="199.88" font-size="8.7" text-anchor="end" font-family="Liberation Sans, sans-serif" font-weight="bold" textLength="18.32" lengthAdjust="spacingAndGlyphs" fill="#000" stroke="#000" stroke-width="0.3" >1000</text>
<line x1="387.70" y1="160.60" x2="392.50" y2="160.60" stroke="#111" stroke-width="1.1"/>
<text x="387.10" y="163.65" font-size="8.7" text-anchor="end" font-family="Liberation Sans, sans-serif" font-weight="bold" textLength="18.32" lengthAdjust="spacingAndGlyphs" fill="#000" stroke="#000" stroke-width="0.3" >1500</text>
<line x1="419.80" y1="269.30" x2="419.80" y2="273.80" stroke="#111" stroke-width="1.15"/>
<line x1="474.00" y1="269.30" x2="474.00" y2="273.80" stroke="#111" stroke-width="1.15"/>
<text x="409.00" y="283.60" font-size="9.7" text-anchor="start" font-family="Liberation Sans, sans-serif" font-weight="bold" textLength="21.70" lengthAdjust="spacingAndGlyphs" fill="#000" stroke="#000" stroke-width="0.3" >Male</text>
<text x="457.90" y="283.60" font-size="9.7" text-anchor="start" font-family="Liberation Sans, sans-serif" font-weight="bold" textLength="33.10" lengthAdjust="spacingAndGlyphs" fill="#000" stroke="#000" stroke-width="0.3" >Female</text>
<rect x="399.80" y="159.80" width="10.8" height="4.3" fill="#fff" stroke="#444" stroke-width="0.7"/>
<rect x="453.30" y="159.80" width="10.8" height="4.3" fill="#616161" stroke="#444" stroke-width="0.7"/>
<text x="417.60" y="164.75" font-size="8.0" text-anchor="start" font-family="Liberation Sans, sans-serif" font-weight="bold" textLength="28.20" lengthAdjust="spacingAndGlyphs" fill="#000" stroke="#000" stroke-width="0.3" >Control</text>
<text x="470.80" y="164.75" font-size="8.0" text-anchor="start" font-family="Liberation Sans, sans-serif" font-weight="bold" textLength="39.20" lengthAdjust="spacingAndGlyphs" fill="#000" stroke="#000" stroke-width="0.3" >COVID-19</text>
<path d="M410.15 195.60V193.30Q410.15 192.50 410.95 192.50H427.65Q428.45 192.50 428.45 193.30V195.60" fill="none" stroke="#111" stroke-width="1.25"/>
<path d="M416.15 181.90V187.30M413.80 183.00L418.50 186.20M413.80 186.20L418.50 183.00M422.65 181.90V187.30M420.30 183.00L425.00 186.20M420.30 186.20L425.00 183.00" fill="none" stroke="#0a0a0a" stroke-width="1.1"/><circle cx="416.15" cy="184.60" r="1.25" fill="#0a0a0a"/><circle cx="422.65" cy="184.60" r="1.25" fill="#0a0a0a"/>
<path d="M465.15 191.10V188.80Q465.15 188.00 465.95 188.00H482.35Q483.15 188.00 483.15 188.80V191.10" fill="none" stroke="#111" stroke-width="1.25"/>
<path d="M474.00 177.40V182.80M471.65 178.50L476.35 181.70M471.65 181.70L476.35 178.50" fill="none" stroke="#0a0a0a" stroke-width="1.1"/><circle cx="474.00" cy="180.10" r="1.25" fill="#0a0a0a"/>
<text transform="translate(362.05,253.10) rotate(-90)" x="0" font-size="10.1" font-family="Liberation Sans, sans-serif" font-weight="bold" textLength="76.60" lengthAdjust="spacingAndGlyphs" fill="#000" stroke="#000" stroke-width="0.35">GROα (pg/mL)</text>
<text x="349.30" y="155.80" font-size="16" font-family="Liberation Serif, serif" font-weight="bold" fill="#000" stroke="#000" stroke-width="0.25">G</text>
<line x1="582.30" y1="261.50" x2="582.30" y2="262.50" stroke="#222" stroke-width="1.3"/>
<line x1="577.90" y1="261.50" x2="586.70" y2="261.50" stroke="#222" stroke-width="1.25"/>
<rect x="573.50" y="262.75" width="17.80" height="6.75" fill="#fff" stroke="#7c7c7c" stroke-width="1.15"/>
<line x1="600.50" y1="191.50" x2="600.50" y2="198.70" stroke="#222" stroke-width="1.3"/>
<line x1="596.10" y1="191.50" x2="604.90" y2="191.50" stroke="#222" stroke-width="1.25"/>
<rect x="591.60" y="199.00" width="17.80" height="70.50" fill="#616161" stroke="#404040" stroke-width="1.1"/>
<line x1="636.55" y1="260.00" x2="636.55" y2="261.20" stroke="#222" stroke-width="1.3"/>
<line x1="632.15" y1="260.00" x2="640.95" y2="260.00" stroke="#222" stroke-width="1.25"/>
<rect x="627.70" y="261.45" width="17.90" height="8.05" fill="#fff" stroke="#7c7c7c" stroke-width="1.15"/>
<line x1="654.60" y1="195.70" x2="654.60" y2="203.30" stroke="#222" stroke-width="1.3"/>
<line x1="650.20" y1="195.70" x2="659.00" y2="195.70" stroke="#222" stroke-width="1.25"/>
<rect x="645.90" y="203.60" width="17.40" height="65.90" fill="#616161" stroke="#404040" stroke-width="1.1"/>
<line x1="564.00" y1="160.15" x2="564.00" y2="270.15" stroke="#111" stroke-width="1.35"/>
<line x1="563.35" y1="269.50" x2="673.00" y2="269.50" stroke="#111" stroke-width="1.35"/>
<line x1="559.20" y1="269.50" x2="564.00" y2="269.50" stroke="#111" stroke-width="1.1"/>
<text x="558.60" y="272.55" font-size="8.7" text-anchor="end" font-family="Liberation Sans, sans-serif" font-weight="bold" textLength="4.58" lengthAdjust="spacingAndGlyphs" fill="#000" stroke="#000" stroke-width="0.3" >0</text>
<line x1="559.20" y1="233.27" x2="564.00" y2="233.27" stroke="#111" stroke-width="1.1"/>
<text x="558.60" y="236.32" font-size="8.7" text-anchor="end" font-family="Liberation Sans, sans-serif" font-weight="bold" textLength="18.32" lengthAdjust="spacingAndGlyphs" fill="#000" stroke="#000" stroke-width="0.3" >5000</text>
<line x1="559.20" y1="197.03" x2="564.00" y2="197.03" stroke="#111" stroke-width="1.1"/>
<text x="558.60" y="200.08" font-size="8.7" text-anchor="end" font-family="Liberation Sans, sans-serif" font-weight="bold" textLength="22.90" lengthAdjust="spacingAndGlyphs" fill="#000" stroke="#000" stroke-width="0.3" >10000</text>
<line x1="559.20" y1="160.80" x2="564.00" y2="160.80" stroke="#111" stroke-width="1.1"/>
<text x="558.60" y="163.85" font-size="8.7" text-anchor="end" font-family="Liberation Sans, sans-serif" font-weight="bold" textLength="22.90" lengthAdjust="spacingAndGlyphs" fill="#000" stroke="#000" stroke-width="0.3" >15000</text>
<line x1="591.30" y1="269.50" x2="591.30" y2="274.00" stroke="#111" stroke-width="1.15"/>
<line x1="645.60" y1="269.50" x2="645.60" y2="274.00" stroke="#111" stroke-width="1.15"/>
<text x="580.50" y="283.60" font-size="9.7" text-anchor="start" font-family="Liberation Sans, sans-serif" font-weight="bold" textLength="21.70" lengthAdjust="spacingAndGlyphs" fill="#000" stroke="#000" stroke-width="0.3" >Male</text>
<text x="629.40" y="283.60" font-size="9.7" text-anchor="start" font-family="Liberation Sans, sans-serif" font-weight="bold" textLength="33.10" lengthAdjust="spacingAndGlyphs" fill="#000" stroke="#000" stroke-width="0.3" >Female</text>
<rect x="571.50" y="158.80" width="11.2" height="4.6" fill="#fff" stroke="#444" stroke-width="0.7"/>
<rect x="626.40" y="158.80" width="11.2" height="4.6" fill="#616161" stroke="#444" stroke-width="0.7"/>
<text x="589.50" y="164.00" font-size="8.4" text-anchor="start" font-family="Liberation Sans, sans-serif" font-weight="bold" textLength="29.10" lengthAdjust="spacingAndGlyphs" fill="#000" stroke="#000" stroke-width="0.3" >Control</text>
<text x="644.50" y="164.00" font-size="8.4" text-anchor="start" font-family="Liberation Sans, sans-serif" font-weight="bold" textLength="41.20" lengthAdjust="spacingAndGlyphs" fill="#000" stroke="#000" stroke-width="0.3" >COVID-19</text>
<path d="M582.65 188.10V185.80Q582.65 185.00 583.45 185.00H599.95Q600.75 185.00 600.75 185.80V188.10" fill="none" stroke="#111" stroke-width="1.25"/>
<path d="M581.75 174.50V179.90M579.40 175.60L584.10 178.80M579.40 178.80L584.10 175.60M588.25 174.50V179.90M585.90 175.60L590.60 178.80M585.90 178.80L590.60 175.60M594.75 174.50V179.90M592.40 175.60L597.10 178.80M592.40 178.80L597.10 175.60M601.25 174.50V179.90M598.90 175.60L603.60 178.80M598.90 178.80L603.60 175.60" fill="none" stroke="#0a0a0a" stroke-width="1.1"/><circle cx="581.75" cy="177.20" r="1.25" fill="#0a0a0a"/><circle cx="588.25" cy="177.20" r="1.25" fill="#0a0a0a"/><circle cx="594.75" cy="177.20" r="1.25" fill="#0a0a0a"/><circle cx="601.25" cy="177.20" r="1.25" fill="#0a0a0a"/>
<path d="M636.15 190.60V188.30Q636.15 187.50 636.95 187.50H653.95Q654.75 187.50 654.75 188.30V190.60" fill="none" stroke="#111" stroke-width="1.25"/>
<path d="M635.65 177.10V182.50M633.30 178.20L638.00 181.40M633.30 181.40L638.00 178.20M642.15 177.10V182.50M639.80 178.20L644.50 181.40M639.80 181.40L644.50 178.20M648.65 177.10V182.50M646.30 178.20L651.00 181.40M646.30 181.40L651.00 178.20M655.15 177.10V182.50M652.80 178.20L657.50 181.40M652.80 181.40L657.50 178.20" fill="none" stroke="#0a0a0a" stroke-width="1.1"/><circle cx="635.65" cy="179.80" r="1.25" fill="#0a0a0a"/><circle cx="642.15" cy="179.80" r="1.25" fill="#0a0a0a"/><circle cx="648.65" cy="179.80" r="1.25" fill="#0a0a0a"/><circle cx="655.15" cy="179.80" r="1.25" fill="#0a0a0a"/>
<path transform="translate(533.65,252.10) rotate(-90)" d="M0.3 0h4v-1.2h-4zM0.3 -5.95h4v-1.2h-4zM1.35 -0.5h1.9v-6h-1.9z" fill="#000"/>
<text transform="translate(533.65,252.10) rotate(-90)" x="4.9" font-size="10.1" font-family="Liberation Sans, sans-serif" font-weight="bold" textLength="70.70" lengthAdjust="spacingAndGlyphs" fill="#000" stroke="#000" stroke-width="0.35">P-10 (pg/mL)</text>
<text x="522.30" y="155.60" font-size="16" font-family="Liberation Serif, serif" font-weight="bold" fill="#000" stroke="#000" stroke-width="0.25">H</text>
<line x1="60.90" y1="399.70" x2="60.90" y2="402.20" stroke="#222" stroke-width="1.3"/>
<line x1="56.50" y1="399.70" x2="65.30" y2="399.70" stroke="#222" stroke-width="1.25"/>
<rect x="52.20" y="402.45" width="17.60" height="11.45" fill="#fff" stroke="#7c7c7c" stroke-width="1.15"/>
<line x1="78.85" y1="348.00" x2="78.85" y2="356.60" stroke="#222" stroke-width="1.3"/>
<line x1="74.45" y1="348.00" x2="83.25" y2="348.00" stroke="#222" stroke-width="1.25"/>
<rect x="70.10" y="356.90" width="17.50" height="57.00" fill="#616161" stroke="#404040" stroke-width="1.1"/>
<line x1="115.00" y1="397.40" x2="115.00" y2="399.40" stroke="#222" stroke-width="1.3"/>
<line x1="110.60" y1="397.40" x2="119.40" y2="397.40" stroke="#222" stroke-width="1.25"/>
<rect x="106.20" y="399.65" width="17.80" height="14.25" fill="#fff" stroke="#7c7c7c" stroke-width="1.15"/>
<line x1="133.20" y1="363.80" x2="133.20" y2="368.70" stroke="#222" stroke-width="1.3"/>
<line x1="128.80" y1="363.80" x2="137.60" y2="363.80" stroke="#222" stroke-width="1.25"/>
<rect x="124.30" y="369.00" width="17.80" height="44.90" fill="#616161" stroke="#404040" stroke-width="1.1"/>
<line x1="42.70" y1="304.95" x2="42.70" y2="414.55" stroke="#111" stroke-width="1.35"/>
<line x1="42.05" y1="413.90" x2="151.10" y2="413.90" stroke="#111" stroke-width="1.35"/>
<line x1="37.90" y1="413.90" x2="42.70" y2="413.90" stroke="#111" stroke-width="1.1"/>
<text x="37.30" y="416.95" font-size="8.7" text-anchor="end" font-family="Liberation Sans, sans-serif" font-weight="bold" textLength="4.58" lengthAdjust="spacingAndGlyphs" fill="#000" stroke="#000" stroke-width="0.3" >0</text>
<line x1="37.90" y1="386.82" x2="42.70" y2="386.82" stroke="#111" stroke-width="1.1"/>
<text x="37.30" y="389.88" font-size="8.7" text-anchor="end" font-family="Liberation Sans, sans-serif" font-weight="bold" textLength="13.74" lengthAdjust="spacingAndGlyphs" fill="#000" stroke="#000" stroke-width="0.3" >500</text>
<line x1="37.90" y1="359.75" x2="42.70" y2="359.75" stroke="#111" stroke-width="1.1"/>
<text x="37.30" y="362.80" font-size="8.7" text-anchor="end" font-family="Liberation Sans, sans-serif" font-weight="bold" textLength="18.32" lengthAdjust="spacingAndGlyphs" fill="#000" stroke="#000" stroke-width="0.3" >1000</text>
<line x1="37.90" y1="332.68" x2="42.70" y2="332.68" stroke="#111" stroke-width="1.1"/>
<text x="37.30" y="335.73" font-size="8.7" text-anchor="end" font-family="Liberation Sans, sans-serif" font-weight="bold" textLength="18.32" lengthAdjust="spacingAndGlyphs" fill="#000" stroke="#000" stroke-width="0.3" >1500</text>
<line x1="37.90" y1="305.60" x2="42.70" y2="305.60" stroke="#111" stroke-width="1.1"/>
<text x="37.30" y="308.65" font-size="8.7" text-anchor="end" font-family="Liberation Sans, sans-serif" font-weight="bold" textLength="18.32" lengthAdjust="spacingAndGlyphs" fill="#000" stroke="#000" stroke-width="0.3" >2000</text>
<line x1="69.80" y1="413.90" x2="69.80" y2="418.40" stroke="#111" stroke-width="1.15"/>
<line x1="124.00" y1="413.90" x2="124.00" y2="418.40" stroke="#111" stroke-width="1.15"/>
<text x="59.50" y="428.20" font-size="9.7" text-anchor="start" font-family="Liberation Sans, sans-serif" font-weight="bold" textLength="21.90" lengthAdjust="spacingAndGlyphs" fill="#000" stroke="#000" stroke-width="0.3" >Male</text>
<text x="107.70" y="428.20" font-size="9.7" text-anchor="start" font-family="Liberation Sans, sans-serif" font-weight="bold" textLength="33.00" lengthAdjust="spacingAndGlyphs" fill="#000" stroke="#000" stroke-width="0.3" >Female</text>
<rect x="49.60" y="304.10" width="10.8" height="4.3" fill="#fff" stroke="#444" stroke-width="0.7"/>
<rect x="103.50" y="304.10" width="10.8" height="4.3" fill="#616161" stroke="#444" stroke-width="0.7"/>
<text x="67.80" y="309.05" font-size="8.0" text-anchor="start" font-family="Liberation Sans, sans-serif" font-weight="bold" textLength="28.20" lengthAdjust="spacingAndGlyphs" fill="#000" stroke="#000" stroke-width="0.3" >Control</text>
<text x="121.80" y="309.05" font-size="8.0" text-anchor="start" font-family="Liberation Sans, sans-serif" font-weight="bold" textLength="39.00" lengthAdjust="spacingAndGlyphs" fill="#000" stroke="#000" stroke-width="0.3" >COVID-19</text>
<path d="M60.65 341.60V339.30Q60.65 338.50 61.45 338.50H78.35Q79.15 338.50 79.15 339.30V341.60" fill="none" stroke="#111" stroke-width="1.25"/>
<path d="M66.65 328.10V333.50M64.30 329.20L69.00 332.40M64.30 332.40L69.00 329.20M73.15 328.10V333.50M70.80 329.20L75.50 332.40M70.80 332.40L75.50 329.20" fill="none" stroke="#0a0a0a" stroke-width="1.1"/><circle cx="66.65" cy="330.80" r="1.25" fill="#0a0a0a"/><circle cx="73.15" cy="330.80" r="1.25" fill="#0a0a0a"/>
<path d="M114.85 354.90V352.60Q114.85 351.80 115.65 351.80H132.15Q132.95 351.80 132.95 352.60V354.90" fill="none" stroke="#111" stroke-width="1.25"/>
<path d="M123.70 341.50V346.90M121.35 342.60L126.05 345.80M121.35 345.80L126.05 342.60" fill="none" stroke="#0a0a0a" stroke-width="1.1"/><circle cx="123.70" cy="344.20" r="1.25" fill="#0a0a0a"/>
<text transform="translate(17.45,403.00) rotate(-90)" x="0" font-size="10.1" font-family="Liberation Sans, sans-serif" font-weight="bold" textLength="86.00" lengthAdjust="spacingAndGlyphs" fill="#000" stroke="#000" stroke-width="0.35">sCD40L (pg/mL)</text>
<text x="4.30" y="303.00" font-size="16" font-family="Liberation Serif, serif" font-weight="bold" fill="#000" stroke="#000" stroke-width="0.25">I</text>
<line x1="240.50" y1="409.80" x2="240.50" y2="412.90" stroke="#222" stroke-width="1.3"/>
<line x1="237.10" y1="409.80" x2="243.90" y2="409.80" stroke="#222" stroke-width="1.25"/>
<rect x="234.10" y="412.90" width="12.80" height="2.20" fill="url(#pd)" stroke="#3a3a3a" stroke-width="0.95"/>
<line x1="267.35" y1="400.80" x2="267.35" y2="406.50" stroke="#222" stroke-width="1.3"/>
<line x1="263.95" y1="400.80" x2="270.75" y2="400.80" stroke="#222" stroke-width="1.25"/>
<rect x="261.00" y="406.50" width="12.70" height="8.60" fill="url(#pl)" stroke="#444" stroke-width="0.95"/>
<line x1="280.25" y1="382.60" x2="280.25" y2="391.70" stroke="#222" stroke-width="1.3"/>
<line x1="276.85" y1="382.60" x2="283.65" y2="382.60" stroke="#222" stroke-width="1.25"/>
<rect x="273.70" y="391.70" width="13.10" height="23.40" fill="url(#pd)" stroke="#3a3a3a" stroke-width="0.95"/>
<line x1="306.95" y1="353.40" x2="306.95" y2="375.40" stroke="#222" stroke-width="1.3"/>
<line x1="303.55" y1="353.40" x2="310.35" y2="353.40" stroke="#222" stroke-width="1.25"/>
<rect x="300.50" y="375.40" width="12.90" height="39.70" fill="url(#pl)" stroke="#444" stroke-width="0.95"/>
<line x1="320.00" y1="381.20" x2="320.00" y2="392.50" stroke="#222" stroke-width="1.3"/>
<line x1="316.60" y1="381.20" x2="323.40" y2="381.20" stroke="#222" stroke-width="1.25"/>
<rect x="313.40" y="392.50" width="13.20" height="22.60" fill="url(#pd)" stroke="#3a3a3a" stroke-width="0.95"/>
<line x1="346.75" y1="403.80" x2="346.75" y2="407.40" stroke="#222" stroke-width="1.3"/>
<line x1="343.35" y1="403.80" x2="350.15" y2="403.80" stroke="#222" stroke-width="1.25"/>
<rect x="340.30" y="407.40" width="12.90" height="7.70" fill="url(#pl)" stroke="#444" stroke-width="0.95"/>
<line x1="359.90" y1="338.50" x2="359.90" y2="357.40" stroke="#222" stroke-width="1.3"/>
<line x1="356.50" y1="338.50" x2="363.30" y2="338.50" stroke="#222" stroke-width="1.25"/>
<rect x="353.20" y="357.40" width="13.40" height="57.70" fill="url(#pd)" stroke="#3a3a3a" stroke-width="0.95"/>
<line x1="213.95" y1="308.75" x2="213.95" y2="415.75" stroke="#111" stroke-width="1.35"/>
<line x1="213.30" y1="415.10" x2="373.40" y2="415.10" stroke="#111" stroke-width="1.35"/>
<line x1="209.15" y1="415.10" x2="213.95" y2="415.10" stroke="#111" stroke-width="1.1"/>
<text x="208.55" y="418.15" font-size="8.7" text-anchor="end" font-family="Liberation Sans, sans-serif" font-weight="bold" textLength="4.58" lengthAdjust="spacingAndGlyphs" fill="#000" stroke="#000" stroke-width="0.3" >0</text>
<line x1="209.15" y1="388.67" x2="213.95" y2="388.67" stroke="#111" stroke-width="1.1"/>
<text x="208.55" y="391.72" font-size="8.7" text-anchor="end" font-family="Liberation Sans, sans-serif" font-weight="bold" textLength="4.58" lengthAdjust="spacingAndGlyphs" fill="#000" stroke="#000" stroke-width="0.3" >5</text>
<line x1="209.15" y1="362.25" x2="213.95" y2="362.25" stroke="#111" stroke-width="1.1"/>
<text x="208.55" y="365.30" font-size="8.7" text-anchor="end" font-family="Liberation Sans, sans-serif" font-weight="bold" textLength="9.16" lengthAdjust="spacingAndGlyphs" fill="#000" stroke="#000" stroke-width="0.3" >10</text>
<line x1="209.15" y1="335.82" x2="213.95" y2="335.82" stroke="#111" stroke-width="1.1"/>
<text x="208.55" y="338.88" font-size="8.7" text-anchor="end" font-family="Liberation Sans, sans-serif" font-weight="bold" textLength="9.16" lengthAdjust="spacingAndGlyphs" fill="#000" stroke="#000" stroke-width="0.3" >15</text>
<line x1="209.15" y1="309.40" x2="213.95" y2="309.40" stroke="#111" stroke-width="1.1"/>
<text x="208.55" y="312.45" font-size="8.7" text-anchor="end" font-family="Liberation Sans, sans-serif" font-weight="bold" textLength="9.16" lengthAdjust="spacingAndGlyphs" fill="#000" stroke="#000" stroke-width="0.3" >20</text>
<line x1="234.10" y1="415.10" x2="234.10" y2="419.60" stroke="#111" stroke-width="1.15"/>
<line x1="273.70" y1="415.10" x2="273.70" y2="419.60" stroke="#111" stroke-width="1.15"/>
<line x1="313.40" y1="415.10" x2="313.40" y2="419.60" stroke="#111" stroke-width="1.15"/>
<line x1="353.20" y1="415.10" x2="353.20" y2="419.60" stroke="#111" stroke-width="1.15"/>
<text x="217.70" y="429.10" font-size="9.2" text-anchor="start" font-family="Liberation Sans, sans-serif" font-weight="bold" textLength="33.10" lengthAdjust="spacingAndGlyphs" fill="#000" stroke="#000" stroke-width="0.3" >Control</text>
<text x="269.10" y="429.10" font-size="9.2" text-anchor="start" font-family="Liberation Sans, sans-serif" font-weight="bold" textLength="11.00" lengthAdjust="spacingAndGlyphs" fill="#000" stroke="#000" stroke-width="0.3" >1d</text>
<text x="308.40" y="429.10" font-size="9.2" text-anchor="start" font-family="Liberation Sans, sans-serif" font-weight="bold" textLength="11.30" lengthAdjust="spacingAndGlyphs" fill="#000" stroke="#000" stroke-width="0.3" >7d</text>
<text x="345.30" y="429.10" font-size="9.2" text-anchor="start" font-family="Liberation Sans, sans-serif" font-weight="bold" textLength="17.00" lengthAdjust="spacingAndGlyphs" fill="#000" stroke="#000" stroke-width="0.3" >14d</text>
<rect x="234.40" y="311.10" width="10.8" height="4.3" fill="url(#pl)" stroke="#444" stroke-width="0.7"/>
<rect x="282.60" y="311.10" width="10.8" height="4.3" fill="url(#pd)" stroke="#444" stroke-width="0.7"/>
<text x="252.30" y="316.05" font-size="7.5" text-anchor="start" font-family="Liberation Sans, sans-serif" font-weight="bold" textLength="17.00" lengthAdjust="spacingAndGlyphs" fill="#000" stroke="#000" stroke-width="0.3" >Male</text>
<text x="300.80" y="316.05" font-size="7.5" text-anchor="start" font-family="Liberation Sans, sans-serif" font-weight="bold" textLength="25.70" lengthAdjust="spacingAndGlyphs" fill="#000" stroke="#000" stroke-width="0.3" >Female</text>
<path d="M346.75 334.00V331.70Q346.75 330.90 347.55 330.90H359.25Q360.05 330.90 360.05 331.70V334.00" fill="none" stroke="#111" stroke-width="1.25"/>
<path d="M353.70 320.40V325.80M351.35 321.50L356.05 324.70M351.35 324.70L356.05 321.50" fill="none" stroke="#0a0a0a" stroke-width="1.1"/><circle cx="353.70" cy="323.10" r="1.25" fill="#0a0a0a"/>
<path transform="translate(193.35,398.85) rotate(-90)" d="M0.3 0h4v-1.2h-4zM0.3 -5.95h4v-1.2h-4zM1.35 -0.5h1.9v-6h-1.9z" fill="#000"/>
<text transform="translate(193.35,398.85) rotate(-90)" x="4.9" font-size="10.1" font-family="Liberation Sans, sans-serif" font-weight="bold" textLength="69.80" lengthAdjust="spacingAndGlyphs" fill="#000" stroke="#000" stroke-width="0.35">L-10 (pg/mL)</text>
<text x="178.80" y="303.30" font-size="16" font-family="Liberation Serif, serif" font-weight="bold" fill="#000" stroke="#000" stroke-width="0.25">J</text>
<text x="269.50" y="444.60" font-size="9.0" text-anchor="start" font-family="Liberation Sans, sans-serif" font-weight="bold" textLength="49.40" lengthAdjust="spacingAndGlyphs" fill="#000" stroke="#000" stroke-width="0.3" >Time (day)</text>
</svg>
</body></html>
